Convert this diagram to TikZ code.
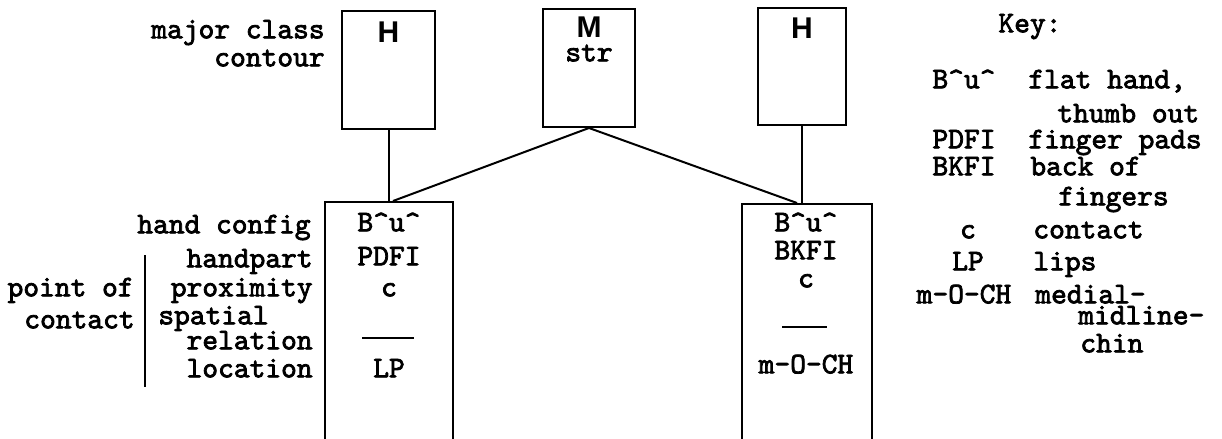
\documentclass[tikz,border=0pt]{standalone}
\usepackage{fontspec}
\newfontfamily\codefont[FakeBold=2.5]{lmmono10-regular.otf}
\newfontfamily\capfont{Liberation Sans}
\usetikzlibrary{positioning}

\tikzset{
  box/.style={draw, line width=1pt, inner sep=0pt},
  lbl/.style={font=\codefont\fontsize{15}{17}\selectfont, inner sep=0pt},
  letter/.style={font=\capfont\bfseries\fontsize{15}{17}\selectfont, inner sep=0pt},
  wire/.style={line width=1pt},
}
\newcommand{\caret}{\textasciicircum}

\begin{document}
\begin{tikzpicture}[x=0.5pt,y=-0.5pt]
    \clip (0,0) rectangle (1222,439);

    % top row
    \node[box, minimum width=46.5pt, minimum height=59pt] (hl) at (388.5,70) {};
    \node[box, minimum width=46pt, minimum height=59pt] (mid) at (589,68) {};
    \node[box, minimum width=44pt, minimum height=58.5pt] (hr) at (802,66.5) {};
    \node[letter] (hlt) at (388.5,32) {H};
    \node[letter] (midt) at (589,27) {M};
    \node[lbl, anchor=mid] (str) at (589,57) {str};
    \node[letter] (hrt) at (802,28) {H};

    % lower row
    \node[box, anchor=north, minimum width=64pt, minimum height=150pt] (lb) at (389,201) {};
    \node[box, anchor=north, minimum width=65pt, minimum height=150pt] (rb) at (807,203) {};

    \draw[wire] (hl.south) -- (hl.south |- lb.north);
    \draw[wire] (hr.south) -- (hr.south |- rb.north);
    \draw[wire] (mid.south) -- ([xshift=2pt]lb.north);
    \draw[wire] (mid.south) -- ([xshift=-5pt]rb.north);

    % left box content
    \node[lbl, anchor=mid] (lb1) at (389,227) {B\caret u\caret};
    \node[lbl, anchor=mid] (lb2) at (389,261) {PDFI};
    \node[lbl, anchor=mid] (lb3) at (389,292) {c};
    \draw[wire] (362,338) -- (414,338);
    \node[lbl, anchor=mid] (lb4) at (389,373) {LP};

    % right box content
    \node[lbl, anchor=mid] (rb1) at (806,227) {B\caret u\caret};
    \node[lbl, anchor=mid] (rb2) at (806,255) {BKFI};
    \node[lbl, anchor=mid] (rb3) at (806,283) {c};
    \draw[wire] (782,327) -- (827,327);
    \node[lbl, anchor=mid] (rb4) at (806,369) {m-O-CH};

    % tier labels
    \node[lbl, anchor=mid east] (major) at (325,34) {major class};
    \node[lbl, anchor=mid east] (contour) at (325,62) {contour};
    \node[lbl, anchor=mid east] (hconf) at (311,229) {hand config};
    \node[lbl, anchor=mid east] (hpart) at (313,263) {handpart};
    \node[lbl, anchor=mid east] (prox) at (313,292) {proximity};
    \node[lbl, anchor=mid west] (spat) at (158,320) {spatial};
    \node[lbl, anchor=mid east] (rel) at (313,345) {relation};
    \node[lbl, anchor=mid east] (loc) at (313,373) {location};
    \node[lbl, anchor=mid east] (poc1) at (134,292) {point of};
    \node[lbl, anchor=mid east] (poc2) at (135,324) {contact};
    \draw[wire] (145,255) -- (145,387);

    % key
    \node[lbl, anchor=mid] (key) at (1030,28) {Key:};
    \node[lbl, anchor=mid] (k1) at (964,84) {B\caret u\caret};
    \node[lbl, anchor=mid west] (k1a) at (1028,84) {flat hand,};
    \node[lbl, anchor=mid west] (k1b) at (1057,118) {thumb out};
    \node[lbl, anchor=mid] (k2) at (964,144) {PDFI};
    \node[lbl, anchor=mid west] (k2a) at (1028,144) {finger pads};
    \node[lbl, anchor=mid] (k3) at (964,171) {BKFI};
    \node[lbl, anchor=mid west] (k3a) at (1030,171) {back of};
    \node[lbl, anchor=mid west] (k3b) at (1058,201) {fingers};
    \node[lbl, anchor=mid] (k4) at (968,234) {c};
    \node[lbl, anchor=mid west] (k4a) at (1033,234) {contact};
    \node[lbl, anchor=mid] (k5) at (968,266) {LP};
    \node[lbl, anchor=mid west] (k5a) at (1033,266) {lips};
    \node[lbl, anchor=mid] (k6) at (964,299) {m-O-CH};
    \node[lbl, anchor=mid west] (k6a) at (1035,299) {medial-};
    \node[lbl, anchor=mid west] (k6b) at (1078,320) {midline-};
    \node[lbl, anchor=mid west] (k6c) at (1080,348) {chin};
\end{tikzpicture}
\end{document}
